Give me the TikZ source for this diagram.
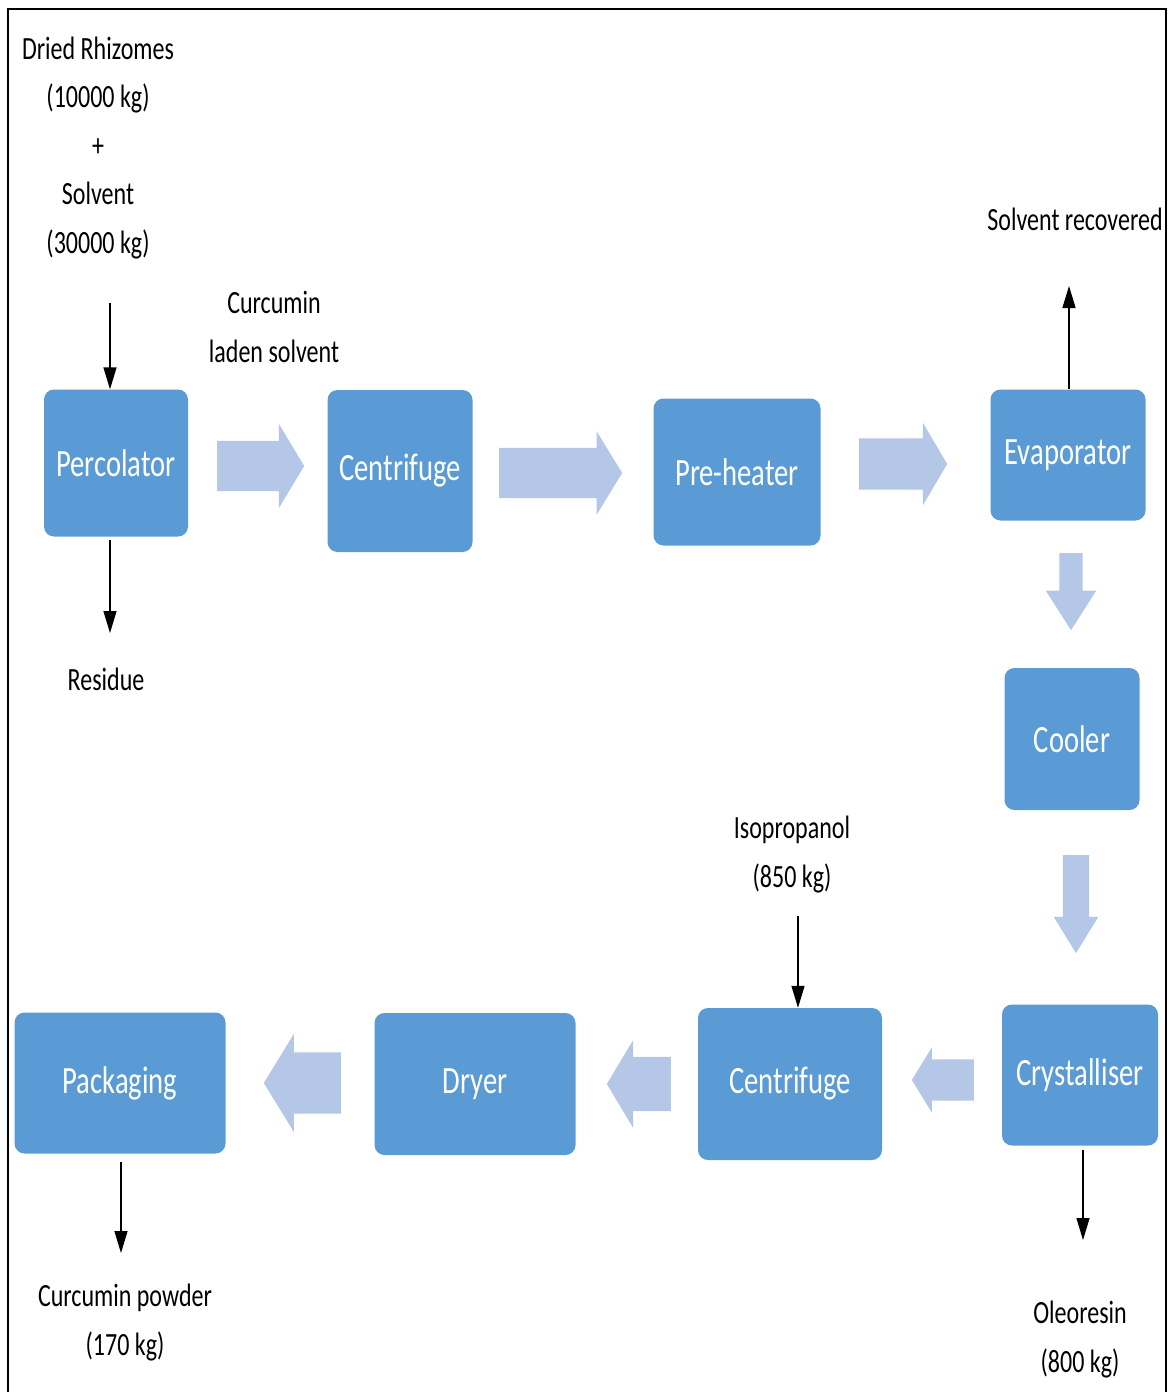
\documentclass[tikz,border=0pt]{standalone}
\usepackage{fontspec}
\setmainfont{Carlito}
\usepackage{graphicx}
\usetikzlibrary{shapes.arrows, arrows.meta, positioning}
\definecolor{unitblue}{RGB}{91,155,213}
\definecolor{arrowblue}{RGB}{180,199,231}
\newcommand{\tall}[1]{\scalebox{1}[1.35]{#1}}
\tikzset{
x=1pt, y=-1pt, % one unit is one pixel of the sheet, y runs downwards
unit/.style={fill=unitblue, rounded corners=10pt, text=white, inner sep=0pt, font=\fontsize{28.6}{34}\selectfont}, % the process boxes
flowlabel/.style={inner sep=0pt, align=center, font=\fontsize{24}{48.5}\selectfont}, % the stream texts, base is the last line
stream/.style={-{Triangle[length=22pt,width=13pt]}, line width=1.4pt}, % thin black arrows
bigarrow/.style={single arrow, fill=arrowblue, inner xsep=0pt, single arrow head indent=0pt, anchor=tail}, % light blue arrows between boxes, inner ysep is half the shaft
}

\begin{document}
\begin{tikzpicture}
      \useasboundingbox (0,0) rectangle (1168,1392);
      \draw[line width=1.5pt] (8,1392) |- (1166,9) -- (1166,1392);
      % process units
      \node[unit, minimum width=144, minimum height=147] (perc) at (116,463) {\tall{Percolator}};
      \node[unit, minimum width=145, minimum height=162] (cent) at (400,471) {\tall{Centrifuge}};
      \node[unit, minimum width=167, minimum height=147] (heat) at (737,472) {\tall{Pre-heater}};
      \node[unit, minimum width=155, minimum height=131] (evap) at (1068,455) {\tall{Evaporator}};
      \node[unit, minimum width=135, minimum height=142] (cool) at (1072,739) {\tall{Cooler}};
      \node[unit, minimum width=156, minimum height=141] (crys) at (1080,1075) {\tall{Crystalliser}};
      \node[unit, minimum width=184, minimum height=152] (cent2) at (790,1084) {\tall{Centrifuge}};
      \node[unit, minimum width=201, minimum height=142] (dryer) at (475,1084) {\tall{Dryer}};
      \node[unit, minimum width=211, minimum height=141] (pack) at (120,1083) {\tall{Packaging}};
      % stream texts
      \node[flowlabel, anchor=base] (feed) at (98,253) {\tall{Dried Rhizomes}\\\tall{(10000 kg)}\\\tall{+}\\\tall{Solvent}\\\tall{(30000 kg)}};
      \node[flowlabel, anchor=base] (laden) at (274,362) {\tall{Curcumin}\\\tall{laden solvent}};
      \node[flowlabel, anchor=base] (recov) at (1075,230) {\tall{Solvent recovered}};
      \node[flowlabel, anchor=base] (resid) at (106,690) {\tall{Residue}};
      \node[flowlabel, anchor=base] (iso) at (792,887) {\tall{Isopropanol}\\\tall{(850 kg)}};
      \node[flowlabel, anchor=base] (powder) at (125,1355) {\tall{Curcumin powder}\\\tall{(170 kg)}};
      \node[flowlabel, anchor=base] (oleo) at (1080,1372) {\tall{Oleoresin}\\\tall{(800 kg)}};
      % block arrows
      \node[bigarrow, minimum height=87, inner ysep=25, single arrow head extend=17, single arrow tip angle=118] (a1) at (217,466) {};
      \node[bigarrow, minimum height=123, inner ysep=25, single arrow head extend=16.5, single arrow tip angle=117] (a2) at (499,473) {};
      \node[bigarrow, minimum height=88, inner ysep=25.5, single arrow head extend=15.5, single arrow tip angle=119] (a3) at (859,464) {};
      \node[bigarrow, rotate=-90, minimum height=77, inner ysep=11.5, single arrow head extend=13.5, single arrow tip angle=65] (a4) at (1071,553) {};
      \node[bigarrow, rotate=-90, minimum height=98, inner ysep=13, single arrow head extend=9, single arrow tip angle=63] (a5) at (1076,855) {};
      \node[bigarrow, rotate=180, minimum height=62, inner ysep=20.5, single arrow head extend=12, single arrow tip angle=117] (a6) at (974,1080) {};
      \node[bigarrow, rotate=180, minimum height=64, inner ysep=27, single arrow head extend=16.5, single arrow tip angle=118] (a7) at (671,1084) {};
      \node[bigarrow, rotate=180, minimum height=77, inner ysep=30.5, single arrow head extend=18.5, single arrow tip angle=117] (a8) at (341,1083) {};
      % free ends of the thin arrows
      \coordinate (feedin) at (110,303);
      \coordinate (resout) at (110,633);
      \coordinate (solvout) at (1069,286);
      \coordinate (isoin) at (798,916);
      \coordinate (oleout) at (1083,1240);
      \coordinate (powout) at (121,1253);
      \draw[stream] (feedin) -- (feedin |- perc.north);
      \draw[stream, shorten <=3pt] (perc.south -| resout) -- (resout);
      \draw[stream] (evap.north -| solvout) -- (solvout);
      \draw[stream] (isoin) -- (isoin |- cent2.north);
      \draw[stream, shorten <=4pt] (crys.south -| oleout) -- (oleout);
      \draw[stream, shorten <=8pt] (pack.south -| powout) -- (powout);
\end{tikzpicture}
\end{document}
